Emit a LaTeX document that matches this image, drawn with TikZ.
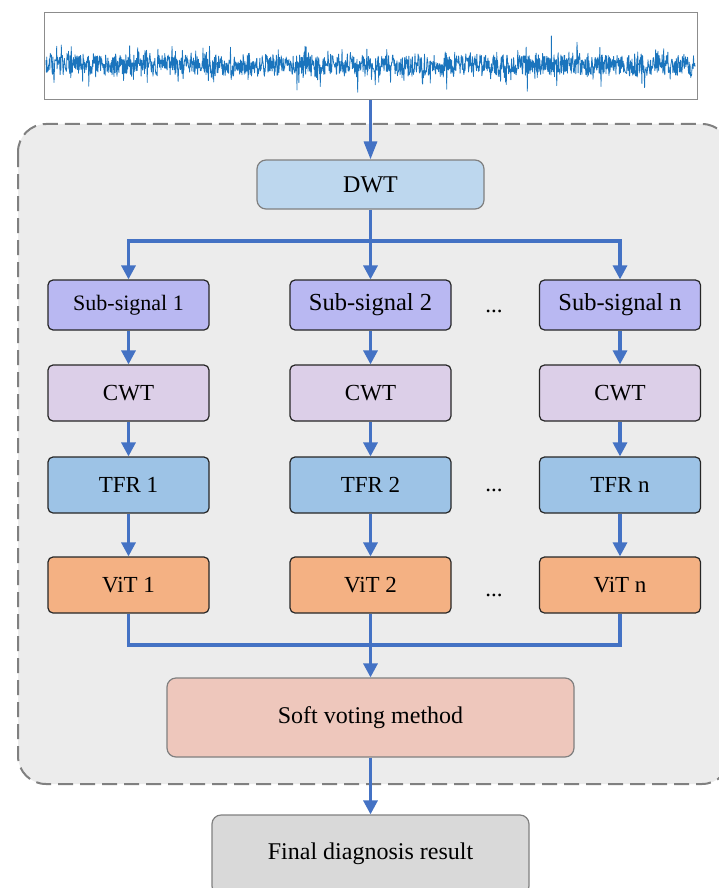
\documentclass[tikz,border=0pt]{standalone}
\usepackage{fontspec}
\setmainfont{Liberation Serif}
\usetikzlibrary{positioning, arrows.meta}

\definecolor{flowblue}{HTML}{4472C4}
\definecolor{wavecol}{HTML}{1A74BD}
\definecolor{regionfill}{HTML}{ECECEC}
\definecolor{regionline}{HTML}{808080}
\definecolor{dwtfill}{HTML}{BDD7EE}
\definecolor{subfill}{HTML}{B9B8F2}
\definecolor{cwtfill}{HTML}{DCCFE8}
\definecolor{tfrfill}{HTML}{9DC3E6}
\definecolor{vitfill}{HTML}{F4B183}
\definecolor{softfill}{HTML}{EEC7BC}
\definecolor{finalfill}{HTML}{D9D9D9}

\begin{document}
\begin{tikzpicture}[x=1pt, y=-1pt]
\tikzset{
  blk/.style={draw=black!85, line width=1.2pt, rounded corners=5pt, minimum width=161pt,
    minimum height=56pt, inner sep=0pt, font=\fontsize{23}{27}\selectfont},
  soft box/.style={draw=regionline, line width=1.2pt, rounded corners=9pt, inner sep=0pt,
    font=\fontsize{24}{28}\selectfont},
  wire/.style={draw=flowblue, line width=3.2pt},
  flow/.style={wire, -{Triangle[length=14pt, width=14pt]}},
  dotsnode/.style={font=\fontsize{23}{27}\selectfont, inner sep=0pt}
}
\clip (0,0) rectangle (719,888);

% input signal
\node[draw=black!45, line width=1pt, minimum width=653pt, minimum height=87pt] (sig) at (370.5,56.5) {};
\pgfmathsetseed{11}
\draw[wavecol, line width=0.8pt, line join=round]
  plot[domain=46:695, samples=1700] (\x, {65 + 10*rand + 36*rand*rand*rand*rand});

% dashed region
\draw[regionline, fill=regionfill, line width=2pt, dash pattern=on 15pt off 7pt, rounded corners=28pt]
  (18,124) rectangle (730,784);

\node[soft box, fill=dwtfill, minimum width=227pt, minimum height=49pt] (dwt) at (370.5,184.5) {DWT};

% branches
\node[blk, fill=subfill, minimum height=50pt, font=\fontsize{22}{26}\selectfont] (sub1) at (128.5,305) {Sub-signal 1};
\node[blk, fill=subfill, minimum height=50pt, font=\fontsize{24.5}{28}\selectfont] (sub2) at (370.5,305) {Sub-signal 2};
\node[blk, fill=subfill, minimum height=50pt, font=\fontsize{24.5}{28}\selectfont] (subn) at (620,305) {Sub-signal n};

\foreach \c/\x in {1/128.5, 2/370.5, n/620} {
  \node[blk, fill=cwtfill] (cwt\c) at (\x,393) {CWT};
  \node[blk, fill=tfrfill] (tfr\c) at (\x,485) {TFR \c};
  \node[blk, fill=vitfill] (vit\c) at (\x,585) {ViT \c};
}

\node[dotsnode] (dots1) at (494,311) {...};
\node[dotsnode] (dots3) at (494,490) {...};
\node[dotsnode] (dots4) at (494,595) {...};

\node[soft box, fill=softfill, minimum width=407pt, minimum height=79pt] (soft) at (370.5,717.5) {Soft voting method};
\node[soft box, fill=finalfill, minimum width=317pt, minimum height=80pt] (final) at (370.5,855) {};
\node[font=\fontsize{24}{28}\selectfont] (finaltext) at (370.5,854) {Final diagnosis result};

% connectors
\coordinate (split) at (370.5,241);
\coordinate (merge) at (370.5,645);

\draw[wire, -{Triangle[length=18pt, width=13pt]}] (sig.south) -- (dwt.north);
\draw[flow] (dwt.south) -- (sub2.north);
\draw[flow] (split) -| (sub1.north);
\draw[flow] (split) -| (subn.north);

\foreach \c in {1,2,n} {
  \draw[flow] (sub\c) -- (cwt\c);
  \draw[flow] (cwt\c) -- (tfr\c);
  \draw[flow] (tfr\c) -- (vit\c);
}

\draw[wire] (vit1.south) |- (merge);
\draw[wire] (vitn.south) |- (merge);
\draw[flow] (vit2.south) -- (soft.north);
\draw[flow] (soft.south) -- (final.north);
\end{tikzpicture}
\end{document}
